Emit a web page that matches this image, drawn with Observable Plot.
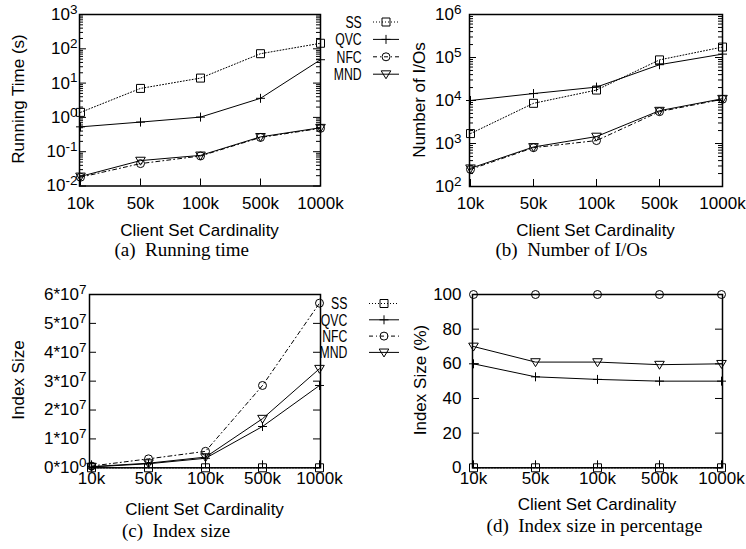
<!DOCTYPE html>
<html><head><meta charset="utf-8">
<script src="https://cdn.jsdelivr.net/npm/d3@7"></script>
<script src="https://cdn.jsdelivr.net/npm/@observablehq/plot@0.6"></script>
<style>
body{margin:0;background:#fff;}
#root{position:relative;width:746px;height:549px;overflow:hidden;background:#fff;}
</style></head><body><div id="root"></div>
<script>
// ---------- data ----------
const categories = ["10k","50k","100k","500k","1000k"];
const seriesNames = ["SS","QVC","NFC","MND"];

// (a) Running time (s)
const runSS  = [1.4, 7.0, 14, 72, 145];
const runQVC = [0.53, 0.73, 1.02, 3.6, 48];
const runNFC = [0.018, 0.045, 0.075, 0.26, 0.48];
const runMND = [0.019, 0.055, 0.078, 0.27, 0.5];

// (b) Number of I/Os
const ioSS  = [1700, 8600, 17500, 88000, 175000];
const ioQVC = [10000, 14500, 20500, 68000, 120000];
const ioNFC = [250, 800, 1170, 5500, 10700];
const ioMND = [265, 830, 1450, 5800, 11000];

// (c) Index size
const sizeSS  = [0, 0, 0, 0, 0];
const sizeQVC = [3e5, 1.4e6, 3.3e6, 1.43e7, 2.85e7];
const sizeNFC = [6e5, 3.1e6, 5.7e6, 2.85e7, 5.7e7];
const sizeMND = [4e5, 1.6e6, 3.7e6, 1.7e7, 3.43e7];

// (d) Index size in percentage
const pctSS  = [0, 0, 0, 0, 0];
const pctQVC = [60, 52.5, 51, 50, 50];
const pctNFC = [100, 100, 100, 100, 100];
const pctMND = [70, 61, 61, 59.5, 60];

// tick values and labels
const ticksA = [1e-2, 1e-1, 1, 10, 100, 1000];
const labelsA = ["10^-2","10^-1","10^0","10^1","10^2","10^3"];
const ticksB = [100, 1000, 10000, 100000, 1000000];
const labelsB = ["10^2","10^3","10^4","10^5","10^6"];
const ticksC = [0, 1e7, 2e7, 3e7, 4e7, 5e7, 6e7];
const labelsC = ["0*10^0","1*10^7","2*10^7","3*10^7","4*10^7","5*10^7","6*10^7"];
const ticksD = [0, 20, 40, 60, 80, 100];
const labelsD = ["0","20","40","60","80","100"];
const minorSteps = [2,3,4,5,6,7,8,9];

const captions = ["(a)\u00a0\u00a0Running time","(b)\u00a0\u00a0Number of I/Os","(c)\u00a0\u00a0Index size","(d)\u00a0\u00a0Index size in percentage"];
const yTitles = ["Running Time (s)","Number of I/Os","Index Size","Index Size (%)"];
const xTitle = "Client Set Cardinality";

// ---------- symbols ----------
const symSquare = {draw(c,s){const r=Math.sqrt(s/Math.PI);c.moveTo(-r,-r);c.lineTo(r,-r);c.lineTo(r,r);c.lineTo(-r,r);c.closePath();}};
const symPlus = {draw(c,s){const r=Math.sqrt(s/Math.PI);c.moveTo(-r,0);c.lineTo(r,0);c.moveTo(0,-r);c.lineTo(0,r);}};
const symCircle = {draw(c,s){const r=Math.sqrt(s/Math.PI);c.moveTo(r,0);c.arc(0,0,r,0,2*Math.PI);}};
const symTri = {draw(c,s){const r=Math.sqrt(s/Math.PI);c.moveTo(-r,-0.7*r);c.lineTo(r,-0.7*r);c.lineTo(0,0.95*r);c.closePath();}};
const styles = {
  SS:  {dash:"1,2", sym:symSquare, r:4},
  QVC: {dash:null, sym:symPlus, r:4.5},
  NFC: {dash:"4,3,1,3", sym:symCircle, r:4},
  MND: {dash:null, sym:symTri, r:4.8}
};

const SANS = "'Liberation Sans', Arial, Helvetica, sans-serif";
const SERIF = "'Liberation Serif', 'Times New Roman', serif";
const FS = 17;
const root = document.getElementById("root");
const NS = "http://www.w3.org/2000/svg";

function panel(cfg){
  const W=373, H=275;
  const fw = W-cfg.mL-cfg.mR, fh = H-cfg.mT-cfg.mB;
  const marks = [];
  marks.push(Plot.tickX(categories,{x:d=>d, insetTop:fh-7, stroke:"black", strokeWidth:1}));
  marks.push(Plot.tickY(cfg.ticks,{y:d=>d, insetRight:fw-7, stroke:"black", strokeWidth:1}));
  marks.push(Plot.tickY(cfg.ticks,{y:d=>d, insetLeft:fw-7, stroke:"black", strokeWidth:1}));
  if (cfg.log){
    const minor = cfg.ticks.slice(0,-1).flatMap(m=>minorSteps.map(k=>k*m));
    marks.push(Plot.tickY(minor,{y:d=>d, insetRight:fw-4, stroke:"black", strokeWidth:1}));
    marks.push(Plot.tickY(minor,{y:d=>d, insetLeft:fw-4, stroke:"black", strokeWidth:1}));
  }
  marks.push(Plot.axisX({tickSize:0, tickPadding:cfg.xPad, label:null}));
  marks.push(Plot.axisY({ticks:cfg.ticks, tickSize:0, tickPadding:cfg.yPad, label:null,
    tickFormat:d=>cfg.labels[cfg.ticks.indexOf(d)]}));
  seriesNames.forEach((name,si)=>{
    const st = styles[name];
    const rows = categories.map((c,i)=>({c, v:cfg.series[si][i]}));
    marks.push(Plot.line(rows,{x:"c", y:"v", stroke:"black", strokeWidth:1, strokeDasharray:st.dash}));
  });
  seriesNames.forEach((name,si)=>{
    const st = styles[name];
    const rows = categories.map((c,i)=>({c, v:cfg.series[si][i]}));
    marks.push(Plot.dot(rows,{x:"c", y:"v", symbol:st.sym, r:st.r, stroke:"black", fill:"none", strokeWidth:1}));
  });
  marks.push(Plot.frame({stroke:"black", strokeWidth:1.5}));
  const svg = Plot.plot({
    width:W, height:H,
    marginLeft:cfg.mL, marginRight:cfg.mR, marginTop:cfg.mT, marginBottom:cfg.mB,
    x:{type:"point", domain:categories, padding:0},
    y:{type:cfg.log?"log":"linear", domain:cfg.domain},
    style:{fontFamily:SANS, fontSize:FS+"px", color:"black", background:"none", overflow:"visible"},
    marks
  });
  svg.style.position="absolute";
  svg.style.left=cfg.left+"px";
  svg.style.top=cfg.top+"px";
  svg.querySelectorAll('g[aria-label="y-axis tick label"] text').forEach(t=>{
    const s=t.textContent, k=s.indexOf("^");
    if(k<0) return;
    t.textContent="";
    const a=document.createElementNS(NS,"tspan"); a.textContent=s.slice(0,k); t.appendChild(a);
    const b=document.createElementNS(NS,"tspan"); b.textContent=s.slice(k+1);
    b.setAttribute("dy","-0.45em"); b.setAttribute("font-size","13.5px"); t.appendChild(b);
  });
  root.appendChild(svg);
}

panel({left:0, top:0, mL:79, mR:53, mT:14, mB:89.5, log:true, domain:[1e-2,1e3], ticks:ticksA, labels:labelsA, xPad:10.5, yPad:2,
  series:[runSS, runQVC, runNFC, runMND]});
panel({left:373, top:0, mL:96, mR:24, mT:14, mB:89, log:true, domain:[1e2,1e6], ticks:ticksB, labels:labelsB, xPad:10.5, yPad:8,
  series:[ioSS, ioQVC, ioNFC, ioMND]});
panel({left:0, top:275, mL:89, mR:53, mT:19, mB:82.7, log:false, domain:[0,6e7], ticks:ticksC, labels:labelsC, xPad:4, yPad:3,
  series:[sizeSS, sizeQVC, sizeNFC, sizeMND]});
panel({left:373, top:275, mL:99, mR:24, mT:19, mB:82.7, log:false, domain:[0,100], ticks:ticksD, labels:labelsD, xPad:4, yPad:11,
  series:[pctSS, pctQVC, pctNFC, pctMND]});

// ---------- overlay: titles, captions, legends ----------
const ov = d3.select(root).append("svg").attr("width",746).attr("height",549)
  .style("position","absolute").style("left","0px").style("top","0px").style("overflow","visible");

const yTitlePos = [[18,99],[419,100],[18,380],[420,380]];
yTitles.forEach((t,i)=>{
  ov.append("text").attr("transform",`translate(${yTitlePos[i][0]},${yTitlePos[i][1]}) rotate(-90)`)
    .attr("text-anchor","middle").attr("dy","0.35em").attr("font-family",SANS).attr("font-size",FS).text(t);
});
const xTitlePos = [[199.5,235.5],[595.5,235.5],[204.5,515],[597,510]];
xTitlePos.forEach(p=>{
  ov.append("text").attr("x",p[0]).attr("y",p[1]).attr("text-anchor","middle")
    .attr("font-family",SANS).attr("font-size",FS).text(xTitle);
});
const capPos = [[181.7,255.5],[571.5,255.5],[176,537],[594.5,532]];
captions.forEach((c,i)=>{
  ov.append("text").attr("x",capPos[i][0]).attr("y",capPos[i][1]).attr("text-anchor","middle")
    .attr("font-family",SERIF).attr("font-size",19).text(c);
});

function legend(rightX, base0, step, x1, x2, xm){
  seriesNames.forEach((name,i)=>{
    const st = styles[name];
    const by = base0 + i*step, ly = by - 5.8;
    ov.append("text").attr("transform",`translate(${rightX},${by}) scale(0.72,1)`)
      .attr("text-anchor","end").attr("font-family",SANS).attr("font-size",FS).text(name);
    ov.append("line").attr("x1",x1).attr("x2",x2).attr("y1",ly).attr("y2",ly)
      .attr("stroke","black").attr("stroke-width",1).attr("stroke-dasharray",st.dash);
    ov.append("path").attr("transform",`translate(${xm},${ly})`)
      .attr("d",d3.symbol().type(st.sym).size(Math.PI*st.r*st.r)())
      .attr("fill","none").attr("stroke","black").attr("stroke-width",1);
  });
}
legend(361.7, 27.8, 17.4, 373, 399, 386);
legend(347.3, 309.3, 16.3, 369, 399, 384);
</script></body></html>
